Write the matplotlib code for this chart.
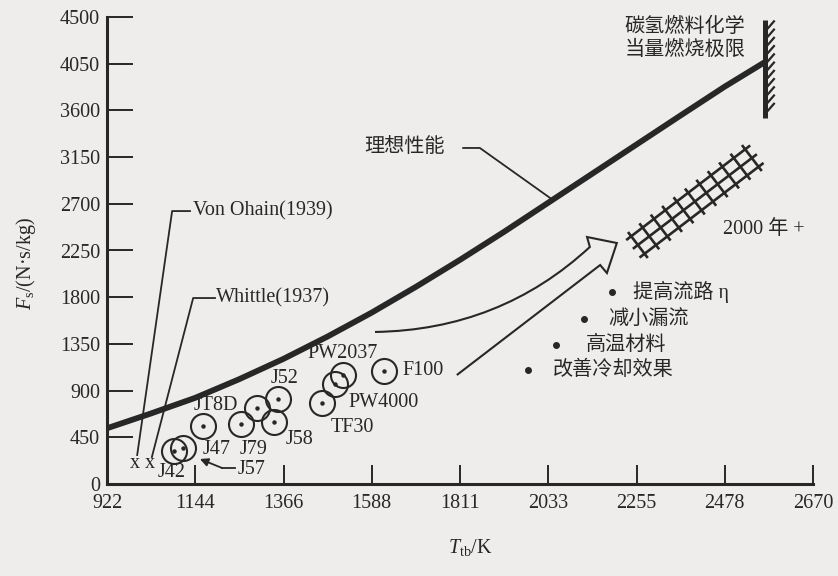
import numpy as np
import matplotlib
matplotlib.use("Agg")
import matplotlib.pyplot as plt
from matplotlib.path import Path
from matplotlib.patches import PathPatch

plt.rcParams['font.family'] = ['Liberation Serif', 'Noto Sans CJK SC']
plt.rcParams['mathtext.fontset'] = 'custom'
plt.rcParams['mathtext.rm'] = 'Liberation Serif'
plt.rcParams['mathtext.it'] = 'Liberation Serif:italic'

INK = '#272727'
PAPER = '#eeedeb'

# axis ticks
x_tick_labels = ["922", "1144", "1366", "1588", "1811", "2033", "2255", "2478", "2670"]
y_ticks = [0, 450, 900, 1350, 1800, 2250, 2700, 3150, 3600, 4050, 4500]

# ideal performance curve
ideal_T = [922, 1033, 1144, 1255, 1366, 1477, 1588, 1700, 1811, 1922,
           2033, 2144, 2255, 2366, 2478, 2579]
ideal_F = [537, 680, 830, 1010, 1205, 1420, 1650, 1900, 2160, 2430,
           2710, 2990, 3270, 3550, 3830, 4066]

# engines
engine_T = [1091, 1114, 1165, 1259, 1299, 1352, 1343, 1464, 1496, 1517, 1620]
engine_F = [321, 344, 562, 575, 729, 819, 600, 780, 964, 1050, 1092]

# engine labels: text, x, y, alignment
engine_labels = [
    ("JT8D", 1196, 752, 'center'),
    ("J52", 1370, 1021, 'center'),
    ("PW2037", 1516, 1253, 'center'),
    ("F100", 1665, 1089, 'left'),
    ("PW4000", 1529, 790, 'left'),
    ("TF30", 1539, 549, 'center'),
    ("J58", 1408, 424, 'center'),
    ("J79", 1290, 337, 'center'),
    ("J47", 1199, 328, 'center'),
    ("J42", 1086, 106, 'center'),
]

# early engines (x marks)
early_T = [992, 1030]
early_F = [202, 202]

bullets = ["提高流路 η", "减小漏流", "高温材料", "改善冷却效果"]
bullet_dot_T = [2194, 2123, 2053, 1982]
bullet_text_T = [2247, 2184, 2128, 2045]
bullet_F = [1850, 1590, 1339, 1099]

fig = plt.figure(figsize=(8.38, 5.76), dpi=100)
fig.patch.set_facecolor(PAPER)
ax = fig.add_axes([107/838, 92/576, 706/838, 467/576])
ax.set_facecolor(PAPER)
ax.set_xlim(922, 2700)
ax.set_ylim(0, 4500)

for s in ['top', 'right']:
    ax.spines[s].set_visible(False)
for s in ['left', 'bottom']:
    ax.spines[s].set_linewidth(2.2)
    ax.spines[s].set_color(INK)

ax.set_xticks(np.linspace(922, 2700, len(x_tick_labels)))
ax.set_xticklabels(x_tick_labels)
ax.set_yticks(y_ticks)
ax.tick_params(axis='y', direction='in', length=19, width=1.4, pad=5,
               labelsize=14.5, colors=INK)
ax.tick_params(axis='x', direction='in', length=14, width=1.4, pad=7,
               labelsize=14.5, colors=INK)

ax.set_ylabel(r"$F_{\rm s}$/(N·s/kg)", fontsize=14.5, color=INK)
ax.yaxis.set_label_coords(-0.098, 0.473)
ax.set_xlabel(r"$T_{\rm tb}$/K", fontsize=14.5, color=INK)
ax.xaxis.set_label_coords(0.514, -0.113)

TXT = dict(fontsize=14.5, color=INK)
CJK = dict(fontsize=14.5, color=INK)


def shift(x, y, dx, dy):
    px, py = ax.transData.transform((x, y))
    return ax.transData.inverted().transform((px + dx, py + dy))


# ideal curve
ax.plot(ideal_T, ideal_F, color=INK, lw=4.2, solid_capstyle='butt',
        solid_joinstyle='round', zorder=3)
ax.text(1670, 3247, "理想性能", ha='center', va='center', **CJK)
ax.plot([1819, 1861, 2038], [3238, 3238, 2756], color=INK, lw=1.3)

# stoichiometric limit wall
wall_T = 2579
wall_lo, wall_hi = 3527, 4471
ax.plot([wall_T, wall_T], [wall_lo, wall_hi], color=INK, lw=3.6,
        solid_capstyle='butt', zorder=3)
for yy in np.linspace(wall_lo + 60, wall_hi - 90, 11):
    p0 = shift(wall_T, yy, 2, 0)
    p1 = shift(wall_T, yy, 9, 8)
    ax.plot([p0[0], p1[0]], [p0[1], p1[1]], color=INK, lw=1.6)
ax.text(2529, 4404, "碳氢燃料化学", ha='right', va='center', **CJK)
ax.text(2529, 4182, "当量燃烧极限", ha='right', va='center', **CJK)

# 2000+ lattice band
a = np.array(ax.transData.transform((2259, 2303)))
b = np.array(ax.transData.transform((2546, 3141)))
u = (b - a) / np.linalg.norm(b - a)
n = np.array([-u[1], u[0]])
inv = ax.transData.inverted()
for off in (-11, 0, 11):
    p0 = inv.transform(a - 5 * u + off * n)
    p1 = inv.transform(b + 5 * u + off * n)
    ax.plot([p0[0], p1[0]], [p0[1], p1[1]], color=INK, lw=1.9)
for t in np.linspace(0, 1, 11):
    c = a + t * (b - a)
    p0 = inv.transform(c - 15 * n)
    p1 = inv.transform(c + 15 * n)
    ax.plot([p0[0], p1[0]], [p0[1], p1[1]], color=INK, lw=1.9)
ax.text(2473, 2457, "2000 年 +", ha='left', va='center', **TXT)

# hollow arrow toward the future band
verts = [(1803, 1050), (2164, 2110), (2181, 2033), (2206, 2322),
         (2131, 2380), (2138, 2284), (1912, 1484), (1597, 1465)]
codes = [Path.MOVETO, Path.LINETO, Path.LINETO, Path.LINETO,
         Path.LINETO, Path.LINETO, Path.CURVE3, Path.CURVE3]
ax.add_patch(PathPatch(Path(verts, codes), facecolor='none',
                       edgecolor=INK, lw=1.5, joinstyle='miter'))

# bullet list
for txt, dx, tx, yy in zip(bullets, bullet_dot_T, bullet_text_T, bullet_F):
    ax.plot(dx, yy, 'o', ms=4, color=INK)
    ax.text(tx, yy, txt, ha='left', va='center', **CJK)

# engines
ax.plot(engine_T, engine_F, 'o', ms=18, mfc='none', mec=INK, mew=1.5, zorder=4)
ax.plot(engine_T, engine_F, 'o', ms=2.2, color=INK, zorder=4)
for txt, x, y, ha in engine_labels:
    ax.text(x, y, txt, ha=ha, va='center', **TXT)
ax.text(1287, 135, "J57", ha='center', va='center', **TXT)
ax.plot([1244, 1212], [154, 154], color=INK, lw=1.3)
ax.annotate("", xy=(1156, 241), xytext=(1212, 154),
            arrowprops=dict(arrowstyle='-|>', color=INK, lw=1.3,
                            mutation_scale=12, shrinkA=0, shrinkB=0))

# early engines
for x, y in zip(early_T, early_F):
    ax.text(x, y, "x", ha='center', va='center', **TXT)
ax.plot([998, 1086, 1131], [279, 2630, 2630], color=INK, lw=1.3)
ax.text(1139, 2630, "Von Ohain(1939)", ha='left', va='center', **TXT)
ax.plot([1035, 1139, 1194], [260, 1792, 1792], color=INK, lw=1.3)
ax.text(1197, 1792, "Whittle(1937)", ha='left', va='center', **TXT)

fig.savefig("out.png", dpi=100, facecolor=PAPER)
